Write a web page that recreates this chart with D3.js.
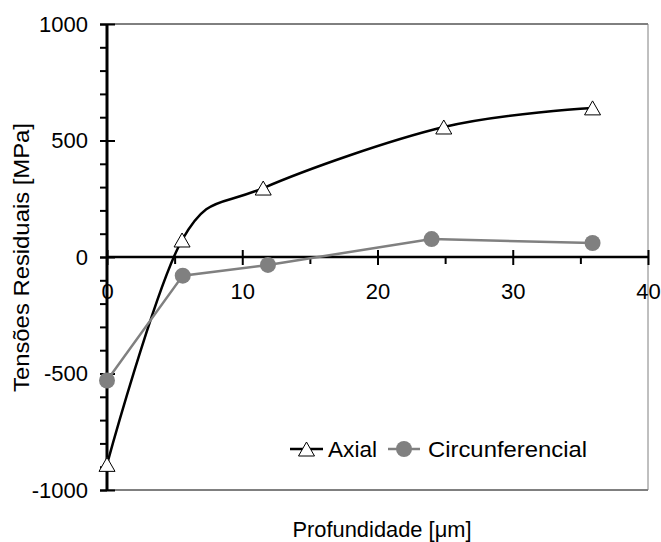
<!DOCTYPE html>
<html>
<head>
<meta charset="utf-8">
<script src="https://cdn.jsdelivr.net/npm/d3@7"></script>
<style>
  html, body { margin: 0; padding: 0; background: #fff; }
  svg { display: block; font-family: "Liberation Sans", Arial, sans-serif; }
</style>
</head>
<body>
<svg id="chart" width="661" height="542"></svg>
<script>
// Depth in micrometres and residual stress in MPa
const axialDepth = [0, 5.55, 11.55, 24.9, 35.9];
const axialStress = [-890, 73, 296, 558, 640];
const circDepth = [0, 5.6, 11.9, 24.0, 35.9];
const circStress = [-530, -80, -34, 77, 60];

const xMajorTicks = [0, 10, 20, 30, 40];
const xMinorTicks = [5, 15, 25, 35];
const yMajorTicks = [-1000, -500, 0, 500, 1000];
const yMinorTicks = d3.range(-1000, 1001, 100);

const seriesNames = ["Axial", "Circunferencial"];
const xTitle = "Profundidade [\u03bcm]";
const yTitle = "Tensões Residuais [MPa]";

const svg = d3.select("#chart");
const plot = { left: 107, right: 648, top: 24, bottom: 490 };

const x = d3.scaleLinear().domain([0, 40]).range([plot.left, plot.right]);
const y = d3.scaleLinear().domain([-1000, 1000]).range([plot.bottom, plot.top]);

const grey = "#808080";
const plainNumber = d => String(d);

// Plot area frame: thin top/bottom, grey right edge
svg.append("line").attr("x1", plot.left).attr("x2", plot.right)
  .attr("y1", plot.top).attr("y2", plot.top)
  .attr("stroke", "#000").attr("stroke-width", 1);
svg.append("line").attr("x1", plot.left).attr("x2", plot.right)
  .attr("y1", plot.bottom).attr("y2", plot.bottom)
  .attr("stroke", "#000").attr("stroke-width", 1);
svg.append("line").attr("x1", plot.right).attr("x2", plot.right)
  .attr("y1", plot.top).attr("y2", plot.bottom)
  .attr("stroke", grey).attr("stroke-width", 1);

// Y axis: minor ticks outside, major ticks crossing the line
const yMinor = svg.append("g").attr("transform", `translate(${plot.left},0)`)
  .call(d3.axisLeft(y).tickValues(yMinorTicks).tickSize(7).tickFormat(""));
yMinor.select(".domain").remove();
yMinor.selectAll("line").attr("stroke", "#000").attr("stroke-width", 2);

const yMajor = svg.append("g").attr("transform", `translate(${plot.left},0)`)
  .call(d3.axisLeft(y).tickValues(yMajorTicks).tickSize(7).tickPadding(12)
    .tickFormat(plainNumber));
yMajor.select(".domain").remove();
yMajor.selectAll("line").attr("x1", 8).attr("x2", -7)
  .attr("stroke", "#000").attr("stroke-width", 2);
yMajor.selectAll("text").attr("font-size", 22)
  .attr("font-family", "Liberation Sans, Arial, sans-serif").attr("fill", "#000");

svg.append("line").attr("x1", plot.left).attr("x2", plot.left)
  .attr("y1", plot.top).attr("y2", plot.bottom)
  .attr("stroke", "#000").attr("stroke-width", 3);

// X axis drawn along zero stress
const x0 = y(0);
const xMinor = svg.append("g").attr("transform", `translate(0,${x0})`)
  .call(d3.axisBottom(x).tickValues(xMinorTicks).tickSize(7).tickFormat(""));
xMinor.select(".domain").remove();
xMinor.selectAll("line").attr("stroke", "#000").attr("stroke-width", 2);

const xMajor = svg.append("g").attr("transform", `translate(0,${x0})`)
  .call(d3.axisBottom(x).tickValues(xMajorTicks).tickSize(7).tickPadding(19)
    .tickFormat(plainNumber));
xMajor.select(".domain").remove();
xMajor.selectAll("line").attr("y1", -7).attr("y2", 8)
  .attr("stroke", "#000").attr("stroke-width", 2);
xMajor.selectAll("text").attr("font-size", 22)
  .attr("font-family", "Liberation Sans, Arial, sans-serif").attr("fill", "#000");

svg.append("line").attr("x1", plot.left).attr("x2", plot.right)
  .attr("y1", x0).attr("y2", x0)
  .attr("stroke", "#000").attr("stroke-width", 2.5);

// Series
const axialData = axialDepth.map((d, i) => ({ x: d, y: axialStress[i] }));
const circData = circDepth.map((d, i) => ({ x: d, y: circStress[i] }));

const smoothLine = d3.line().x(d => x(d.x)).y(d => y(d.y))
  .curve(d3.curveCardinal.tension(0));
const straightLine = d3.line().x(d => x(d.x)).y(d => y(d.y));

svg.append("path").datum(axialData).attr("d", smoothLine)
  .attr("fill", "none").attr("stroke", "#000").attr("stroke-width", 2.5);
svg.append("path").datum(circData).attr("d", straightLine)
  .attr("fill", "none").attr("stroke", grey).attr("stroke-width", 2.5);

// Open triangle marker centred on its bounding box
function trianglePath(cx, cy, w, h) {
  const p = d3.path();
  p.moveTo(cx, cy - h / 2);
  p.lineTo(cx + w / 2, cy + h / 2);
  p.lineTo(cx - w / 2, cy + h / 2);
  p.closePath();
  return p.toString();
}

svg.append("g").selectAll("path").data(axialData).join("path")
  .attr("d", d => trianglePath(x(d.x), y(d.y), 16, 14))
  .attr("fill", "#fff").attr("stroke", "#000").attr("stroke-width", 1);

svg.append("g").selectAll("circle").data(circData).join("circle")
  .attr("cx", d => x(d.x)).attr("cy", d => y(d.y)).attr("r", 8)
  .attr("fill", grey);

// Legend
const legY = 449;
const leg = svg.append("g");
leg.append("line").attr("x1", 290).attr("x2", 323).attr("y1", legY).attr("y2", legY)
  .attr("stroke", "#000").attr("stroke-width", 2.5);
leg.append("path").attr("d", trianglePath(306.5, legY, 16, 14))
  .attr("fill", "#fff").attr("stroke", "#000").attr("stroke-width", 1);
leg.append("text").attr("x", 328).attr("y", legY + 8).attr("font-size", 22)
  .attr("textLength", 49).attr("lengthAdjust", "spacingAndGlyphs")
  .text(seriesNames[0]);
leg.append("line").attr("x1", 388).attr("x2", 420).attr("y1", legY).attr("y2", legY)
  .attr("stroke", grey).attr("stroke-width", 2.5);
leg.append("circle").attr("cx", 404).attr("cy", legY).attr("r", 8).attr("fill", grey);
leg.append("text").attr("x", 428).attr("y", legY + 8).attr("font-size", 22)
  .attr("textLength", 159).attr("lengthAdjust", "spacingAndGlyphs")
  .text(seriesNames[1]);

// Axis titles
svg.append("text").attr("x", 382).attr("y", 537).attr("text-anchor", "middle")
  .attr("font-size", 22).attr("textLength", 179).attr("lengthAdjust", "spacingAndGlyphs")
  .text(xTitle);
svg.append("text").attr("transform", "translate(29,257.5) rotate(-90)")
  .attr("text-anchor", "middle").attr("font-size", 22)
  .attr("textLength", 269).attr("lengthAdjust", "spacingAndGlyphs")
  .text(yTitle);
</script>
</body>
</html>
